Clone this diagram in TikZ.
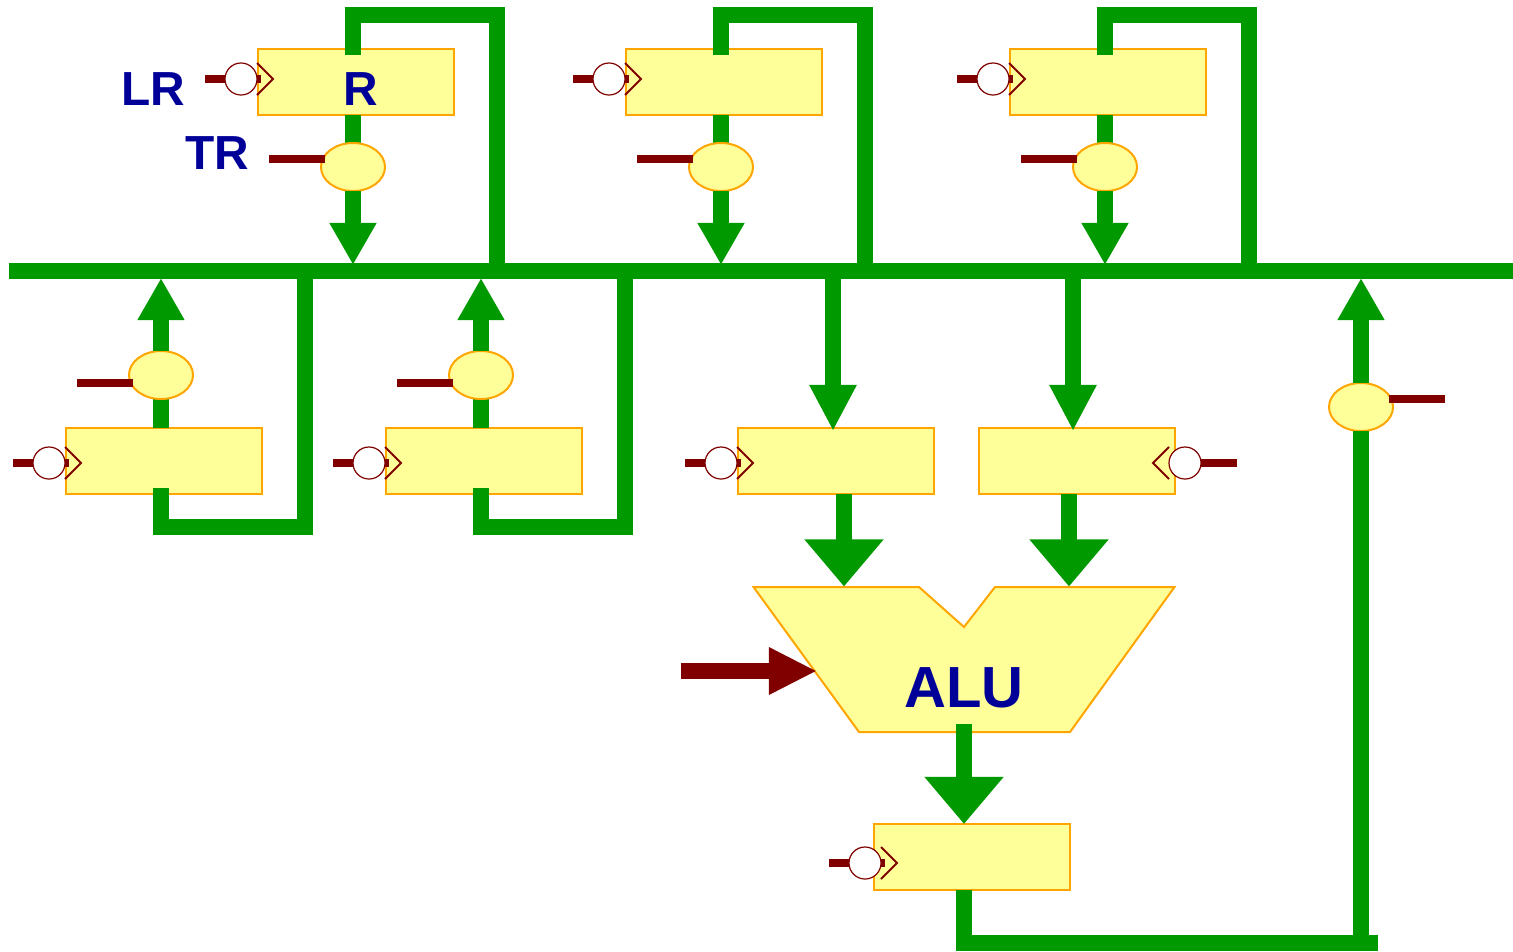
\documentclass[tikz,border=0pt]{standalone}
\usepackage{fontspec}
\setmainfont{Liberation Sans}
\usetikzlibrary{arrows.meta}
\usetikzlibrary{shapes.geometric}
\definecolor{busgreen}{HTML}{009900}
\definecolor{ctlred}{HTML}{800000}
\definecolor{boxfill}{HTML}{FFFF99}
\definecolor{boxline}{HTML}{FFA500}
\definecolor{labelblue}{HTML}{000099}
\tikzset{
  reg/.style={draw=boxline,fill=boxfill,line width=0.02cm,minimum width=1.955cm,minimum height=0.66cm,inner sep=0pt,outer sep=0pt},
  gate/.style={draw=boxline,fill=boxfill,line width=0.02cm,ellipse,minimum width=0.64cm,minimum height=0.48cm,inner sep=0pt,outer sep=0pt},
  clk/.style={draw=ctlred,fill=white,line width=0.012cm,circle,minimum size=0.32cm,inner sep=0pt,outer sep=0pt},
  wire/.style={draw=busgreen,line width=0.16cm,line cap=rect},
  feed/.style={wire,-{Triangle[length=0.42cm,width=0.44cm]}},
  dropfeed/.style={wire,-{Triangle[length=0.46cm,width=0.44cm]}},
  bigfeed/.style={wire,-{Triangle[length=0.47cm,width=0.76cm]}},
  ctl/.style={draw=ctlred,line width=0.08cm},
  clkedge/.style={draw=ctlred,line width=0.02cm},
  lbl/.style={text=labelblue,font=\fontsize{13.6}{14}\selectfont\bfseries,inner sep=0pt},
}
\begin{document}
\begin{tikzpicture}[x=0.01cm,y=-0.01cm]
\useasboundingbox (0,0) rectangle (1513,951);
% registers
\node[reg] (rega) at (356.2,82) {};
\node[reg] (regb) at (724.1,82) {};
\node[reg] (regc) at (1108.1,82) {};
\node[reg] (regd) at (164.2,461) {};
\node[reg] (rege) at (484.1,461) {};
\node[reg] (regf) at (836.1,461) {};
\node[reg] (regg) at (1077,461) {};
\node[reg] (regh) at (971.8,857) {};
\draw[draw=boxline,fill=boxfill,line width=0.02cm] (753.5,587) -- (919,587) -- (964,627) -- (995,587) -- (1174.5,587) -- (1070,732) -- (859,732) -- cycle;
% bus
\coordinate (busl) at (9,271);
\coordinate (busr) at (1513,271);
\draw[draw=busgreen,line width=0.16cm] (busl) -- (busr);
% upper loops
\foreach \n/\x/\r in {a/353/497,b/721/865,c/1105/1249} {
  \coordinate (top\n) at (\x,47);
  \draw[wire] (top\n) -- (\x,15) -- (\r,15) -- (\r,271);
  \draw[wire,line cap=butt] (reg\n.south -| top\n) -- (\x,167);
}
% lower loops
\foreach \n/\x/\r in {d/161/305,e/481/625} {
  \coordinate (low\n) at (\x,496);
  \draw[wire] (low\n) -- (\x,527) -- (\r,527) -- (\r,271);
  \draw[wire,line cap=butt] (reg\n.north -| low\n) -- (\x,375);
}
% gates
\node[gate] (gatea) at (353,167) {};
\node[gate] (gateb) at (721,167) {};
\node[gate] (gatec) at (1105,167) {};
\node[gate] (gated) at (161,375) {};
\node[gate] (gatee) at (481,375) {};
\node[gate] (gatef) at (1361,407) {};
\foreach \n in {a,b,c}
  \draw[feed,line cap=butt,shorten >=0.06cm] (gate\n.south) -- (gate\n |- busl);
\foreach \n in {d,e,f}
  \draw[feed,line cap=butt,shorten >=0.07cm] (gate\n.north) -- (gate\n |- busl);
\draw[dropfeed,shorten >=-0.03cm] (833,271) -- (regf.north -| 833,271);
\draw[dropfeed,shorten >=-0.03cm] (1073,271) -- (regg.north -| 1073,271);
% alu
\draw[bigfeed,line cap=butt] (regf.south -| 844,494) -- (844,586.5);
\draw[bigfeed,line cap=butt] (regg.south -| 1069,494) -- (1069,586.5);
\draw[bigfeed,line cap=butt] (964,724) -- (regh.north -| 964,724);
% result
\coordinate (resb) at (964,943);
\draw[wire,line cap=butt] (regh.south -| resb) -- (964,951);
\draw[draw=busgreen,line width=0.16cm] (956,943) -- (1378,943);
\draw[draw=busgreen,line width=0.16cm] (gatef.south) -- (gatef |- resb);
% load clocks
\foreach \n/\x/\y in {a/241/79,b/609/79,c/993/79,d/49/463,e/369/463,f/721/463,h/865/863} {
  \draw[ctl] (\x-36,\y) -- (\x+20,\y);
  \node[clk] (clk\n) at (\x,\y) {};
  \draw[clkedge] (\x+16,\y-16) -- (\x+32,\y) -- (\x+16,\y+16);
}
\draw[ctl] (1201,463) -- (1237,463);
\node[clk] (clkg) at (1185,463) {};
\draw[clkedge] (1169,447) -- (1153,463) -- (1169,479);
% transfer lines
\foreach \n/\x/\y in {a/269/159,b/637/159,c/1021/159,d/77/383,e/397/383}
  \draw[ctl] (\x,\y) -- (\x+56,\y);
\draw[ctl] (1389,399) -- (1445,399);
\draw[draw=ctlred,line width=0.16cm,-{Triangle[length=0.48cm,width=0.44cm]}] (681,671) -- (817,671);
% labels
\node[lbl] (lr) at (153,89) {LR};
\node[lbl] (tr) at (217,153) {TR};
\node[lbl] (rname) at (361,89) {R};
\node[lbl,font=\fontsize{16.5}{17}\selectfont\bfseries] (aluname) at (964,688) {ALU};
\end{tikzpicture}
\end{document}
